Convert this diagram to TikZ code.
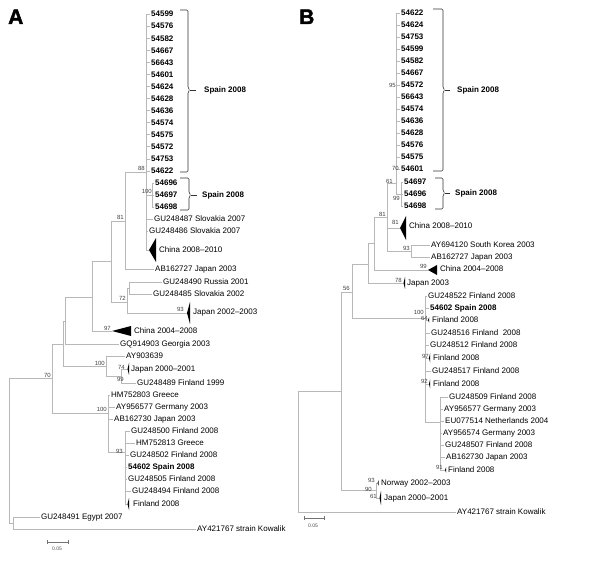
\documentclass[tikz,border=0pt]{standalone}
\usepackage{fontspec}
\setmainfont{Liberation Sans}
\newfontfamily\heavyfont{Liberation Sans}[UprightFont=* Bold, FakeBold=2]
\newcommand{\Leaf}[5][lfx]{\node[#1] (#2) at ({#3-1.5},#4) {#5};}
\newcommand{\EL}[2]{\draw[brx] (#1) |- (#2.west);}
\newcommand{\EN}[2]{\draw[brx] (#1) |- (#2);}
\newcommand{\Tri}[3]{\fill[trx] (#1) -- ++(#2,{-#3}) -- ++(0,{2*#3}) -- cycle;}
\newcommand{\BS}[4]{\node[bsx] (#1) at (#2,#3) {#4};}
\begin{document}
\begin{tikzpicture}[x=1pt,y=-1pt,
  brx/.style={draw=black!28, line width=0.6pt},
  lfx/.style={anchor=west, inner xsep=1.5pt, inner ysep=0pt, text height=5.8pt, text depth=0pt, font=\fontsize{8}{9}\selectfont},
  spx/.style={lfx, font=\fontsize{8}{9}\selectfont\bfseries},
  bsx/.style={anchor=east, inner sep=0pt, text height=4.3pt, text depth=0pt, font=\fontsize{6}{7}\selectfont, text=black!75},
  trx/.style={fill=black},
  brkx/.style={draw=black!80, line width=0.6pt, rounded corners=1.2pt},
  grpx/.style={anchor=west, inner sep=0pt, text height=5.8pt, text depth=0pt, font=\fontsize{8}{9}\selectfont\bfseries},
  sbx/.style={draw=black!55, line width=0.5pt},
  sblx/.style={inner sep=0pt, font=\fontsize{5}{6}\selectfont, text=black!70},
  pnx/.style={anchor=base west, inner sep=0pt, font=\heavyfont\fontsize{21}{21}\selectfont}]
\useasboundingbox (0,0) rectangle (600,561);
\node[pnx] (pA) at (8,24) {A};
\node[pnx] (pB) at (299,24) {B};

% ================= PANEL A =================
\coordinate (aroot) at (9,450);
\coordinate (aEK) at (13,523);
\coordinate (a70) at (52,378);
\coordinate (aM) at (63,344);
\coordinate (aG) at (65,321);
\coordinate (aH) at (92,297);
\coordinate (aI) at (111,261);
\coordinate (a81) at (125,221);
\coordinate (a88) at (146,172);
\coordinate (a100a) at (152,195);
\coordinate (a72) at (127,302);
\coordinate (aRS) at (129,288);
\coordinate (a100b) at (106,366);
\coordinate (a99) at (121,376);
\coordinate (a100c) at (108,413);
\coordinate (a93) at (125,452);
\coordinate (aCh1) at (149,250);
\coordinate (aJp2) at (187,313);
\coordinate (aCh2) at (112,331);
\coordinate (aJp1) at (127.5,369);
\coordinate (aFi) at (127.5,504);

\EN{aroot}{a70} \EN{aroot}{aEK} \EN{a70}{aM} \EN{a70}{a100c}
\EN{aM}{aG} \EN{aM}{a100b} \EN{aG}{aH} \EN{aH}{aI} \EN{aH}{aCh2}
\EN{aI}{a81} \EN{aI}{a72} \EN{a81}{a88} \EN{a88}{a100a} \EN{a88}{aCh1}
\EN{a72}{aRS} \EN{a72}{aJp2} \EN{a100b}{a99} \EN{a99}{aJp1}
\EN{a100c}{a93} \EN{a93}{aFi}

\Tri{aCh1}{7}{12} \Tri{aJp2}{3}{11} \Tri{aCh2}{19}{5} \Tri{aJp1}{1.5}{6} \Tri{aFi}{1.5}{6}

\foreach \t [count=\i] in {54599,54576,54582,54667,56643,54601,54624,54628,54636,54574,54575,54572,54753,54622} {
  \node[spx] (aS\i) at (149.5,{14+(\i-1)*12.07}) {\t};
  \draw[brx] (a88) |- (aS\i.west);
}
\foreach \t [count=\i] in {54696,54697,54698} {
  \node[spx] (aT\i) at (153.5,{171+\i*12}) {\t};
  \draw[brx] (a100a) |- (aT\i.west);
}
\Leaf{aSk1}{154}{219}{GU248487 Slovakia 2007} \EL{a88}{aSk1}
\Leaf{aSk2}{149}{231}{GU248486 Slovakia 2007} \EL{a88}{aSk2}
\Leaf{aCh1t}{159}{250}{China 2008--2010}
\Leaf{aAB}{155}{269}{AB162727 Japan 2003} \EL{a81}{aAB}
\Leaf{aRu}{163}{282}{GU248490 Russia 2001} \EL{aRS}{aRu}
\Leaf{aSk3}{153}{294}{GU248485 Slovakia 2002} \EL{aRS}{aSk3}
\Leaf{aJp2t}{193}{312}{Japan 2002--2003}
\Leaf{aCh2t}{134}{331}{China 2004--2008}
\Leaf{aGe}{120}{344}{GQ914903 Georgia 2003} \EL{aG}{aGe}
\Leaf{aAY}{126}{356}{AY903639} \EL{a100b}{aAY}
\Leaf{aJp1t}{131}{369}{Japan 2000--2001}
\Leaf{aFi99}{137}{383}{GU248489 Finland 1999} \EL{a99}{aFi99}
\Leaf{aGr1}{111}{395}{HM752803 Greece} \EL{a100c}{aGr1}
\Leaf{aDe}{116}{407}{AY956577 Germany 2003} \EL{a100c}{aDe}
\Leaf{aJp3}{114}{419}{AB162730 Japan 2003} \EL{a100c}{aJp3}
\Leaf{aF1}{131}{431}{GU248500 Finland 2008} \EL{a93}{aF1}
\Leaf{aGr2}{136}{443}{HM752813 Greece} \EL{a93}{aGr2}
\Leaf{aF2}{130}{455}{GU248502 Finland 2008} \EL{a93}{aF2}
\Leaf[spx]{aSp}{128}{467}{54602 Spain 2008} \EL{a93}{aSp}
\Leaf{aF3}{128}{479}{GU248505 Finland 2008} \EL{a93}{aF3}
\Leaf{aF4}{132}{491}{GU248494 Finland 2008} \EL{a93}{aF4}
\Leaf{aFit}{133}{504}{Finland 2008}
\Leaf{aEg}{41}{517}{GU248491 Egypt 2007} \EL{aEK}{aEg}
\Leaf{aKo}{197}{529}{AY421767 strain Kowalik} \EL{aEK}{aKo}

\BS{abs1}{145}{168}{88}
\BS{abs2}{152}{191}{100}
\BS{abs3}{124}{217}{81}
\BS{abs4}{126}{298}{72}
\BS{abs5}{184}{309}{93}
\BS{abs6}{111}{328}{97}
\BS{abs7}{105}{363}{100}
\BS{abs8}{125}{367}{74}
\BS{abs9}{124}{379}{99}
\BS{abs10}{51}{375}{70}
\BS{abs11}{107}{409}{100}
\BS{abs12}{123}{451}{93}

% brackets A
\coordinate (aK1) at (190,90);
\draw[brkx] (180,10) -- (188,10) -- (188,88) -- (aK1) -- (188,92) -- (188,172) -- (180,172);
\node[grpx] (aG1) at (204,90) {Spain 2008};
\draw[brkx] (aK1) -- ([xshift=-8pt]aG1.west);
\coordinate (aK2) at (191,195);
\draw[brkx] (180,178) -- (189,178) -- (189,193) -- (aK2) -- (189,197) -- (189,210) -- (180,210);
\node[grpx] (aG2) at (202,195) {Spain 2008};
\draw[brkx] (aK2) -- ([xshift=-5pt]aG2.west);

% scale A
\coordinate (asb1) at (47,542);
\coordinate (asb2) at (68,542);
\draw[sbx] (asb1) -- (asb2);
\draw[sbx] ([yshift=2pt]asb1) -- ([yshift=-2pt]asb1);
\draw[sbx] ([yshift=2pt]asb2) -- ([yshift=-2pt]asb2);
\node[sblx] (asbl) at (57,549) {0.05};

% ================= PANEL B =================
\coordinate (broot) at (298,451);
\coordinate (b341) at (341,391);
\coordinate (b56) at (352,292);
\coordinate (bNJ) at (376,490);
\coordinate (bQ) at (368,264);
\coordinate (bP) at (374,243);
\coordinate (b81) at (387,217);
\coordinate (b61) at (396,183);
\coordinate (b99) at (401,194);
\coordinate (b93) at (411,251);
\coordinate (b100) at (425,318);
\coordinate (b40) at (440,422);
\coordinate (bNo) at (377.5,483);
\coordinate (bJp1) at (379.5,498);
\coordinate (bJp3) at (403.5,283);
\coordinate (bCh2) at (428,270);
\coordinate (bCh1) at (400,228);
\coordinate (bF1) at (428,320);
\coordinate (bF2) at (429,358);
\coordinate (bF3) at (429,384);
\coordinate (bF4) at (445,470);

\EN{broot}{b341} \EN{b341}{b56} \EN{b341}{bNJ} \EN{bNJ}{bNo} \EN{bNJ}{bJp1}
\EN{b56}{bQ} \EN{b56}{b100} \EN{bQ}{bP} \EN{bQ}{bJp3} \EN{bP}{b81} \EN{bP}{bCh2}
\EN{b81}{b61} \EN{b81}{bCh1} \EN{b81}{b93} \EN{b61}{b99}
\EN{b100}{bF1} \EN{b100}{bF2} \EN{b100}{bF3} \EN{b100}{b40} \EN{b40}{bF4}

\Tri{bNo}{1.2}{3} \Tri{bJp1}{1.5}{7} \Tri{bJp3}{1.5}{6} \Tri{bCh2}{9}{5}
\Tri{bCh1}{6}{12} \Tri{bF1}{1.2}{3} \Tri{bF2}{1.2}{5} \Tri{bF3}{1.2}{5} \Tri{bF4}{1.2}{3}

\foreach \t [count=\i] in {54622,54624,54753,54599,54582,54667,54572,56643,54574,54636,54628,54576,54575,54601} {
  \node[spx] (bS\i) at (399.5,{13+(\i-1)*12}) {\t};
  \draw[brx] (b61) |- (bS\i.west);
}
\foreach \t [count=\i] in {54697,54696,54698} {
  \node[spx] (bT\i) at (402.5,{170+\i*12}) {\t};
  \draw[brx] (b99) |- (bT\i.west);
}
\Leaf{bCh1t}{409}{226}{China 2008--2010}
\Leaf{bKr}{431}{245}{AY694120 South Korea 2003} \EL{b93}{bKr}
\Leaf{bAB}{431}{257}{AB162727 Japan 2003} \EL{b93}{bAB}
\Leaf{bCh2t}{440}{269}{China 2004--2008}
\Leaf{bJp3t}{407}{283}{Japan 2003}
\Leaf{bG1}{428}{296}{GU248522 Finland 2008} \EL{b100}{bG1}
\Leaf[spx]{bSp}{430}{308}{54602 Spain 2008} \EL{b100}{bSp}
\Leaf{bF1t}{432}{320}{Finland 2008}
\Leaf{bG2}{431}{333}{GU248516 Finland~ 2008} \EL{b100}{bG2}
\Leaf{bG3}{430}{345}{GU248512 Finland 2008} \EL{b100}{bG3}
\Leaf{bF2t}{433}{358}{Finland 2008}
\Leaf{bG4}{432}{371}{GU248517 Finland 2008} \EL{b100}{bG4}
\Leaf{bF3t}{433}{384}{Finland 2008}
\Leaf{bH1}{449}{397}{GU248509 Finland 2008} \EL{b40}{bH1}
\Leaf{bH2}{444}{409}{AY956577 Germany 2003} \EL{b40}{bH2}
\Leaf{bH3}{445}{421}{EU077514 Netherlands 2004} \EL{b40}{bH3}
\Leaf{bH4}{443}{433}{AY956574 Germany 2003} \EL{b40}{bH4}
\Leaf{bH5}{445}{445}{GU248507 Finland 2008} \EL{b40}{bH5}
\Leaf{bH6}{446}{457}{AB162730 Japan 2003} \EL{b40}{bH6}
\Leaf{bF4t}{448}{470}{Finland 2008}
\Leaf{bNot}{381}{483}{Norway 2002--2003}
\Leaf{bJp1t}{384}{498}{Japan 2000--2001}
\Leaf{bKo}{457}{512}{AY421767 strain Kowalik} \EL{broot}{bKo}

\BS{bbs1}{396}{85}{95}
\BS{bbs2}{399}{168}{70}
\BS{bbs3}{393}{181}{61}
\BS{bbs4}{400}{198}{99}
\BS{bbs5}{386}{214}{81}
\BS{bbs6}{399}{222}{81}
\BS{bbs7}{410}{248}{93}
\BS{bbs8}{427}{266}{99}
\BS{bbs9}{402}{280}{78}
\BS{bbs10}{350}{288}{56}
\BS{bbs11}{424}{312}{100}
\BS{bbs12}{428}{318}{64}
\BS{bbs13}{429}{356}{97}
\BS{bbs14}{428}{381}{92}
\BS{bbs15}{443}{467}{91}
\BS{bbs16}{375}{480}{93}
\BS{bbs17}{372}{489}{90}
\BS{bbs18}{377}{496}{61}

% brackets B
\coordinate (bK1) at (445,90);
\draw[brkx] (433,9) -- (443,9) -- (443,88) -- (bK1) -- (443,92) -- (443,171) -- (433,171);
\node[grpx] (bG1t) at (457,90) {Spain 2008};
\draw[brkx] (bK1) -- ([xshift=-7pt]bG1t.west);
\coordinate (bK2) at (445,193);
\draw[brkx] (435,178) -- (443,178) -- (443,191) -- (bK2) -- (443,195) -- (443,209) -- (435,209);
\node[grpx] (bG2t) at (455,193) {Spain 2008};
\draw[brkx] (bK2) -- ([xshift=-5pt]bG2t.west);

% scale B
\coordinate (bsb1) at (304,518);
\coordinate (bsb2) at (324,518);
\draw[sbx] (bsb1) -- (bsb2);
\draw[sbx] ([yshift=2pt]bsb1) -- ([yshift=-2pt]bsb1);
\draw[sbx] ([yshift=2pt]bsb2) -- ([yshift=-2pt]bsb2);
\node[sblx] (bsbl) at (313,526) {0.05};
\end{tikzpicture}
\end{document}
